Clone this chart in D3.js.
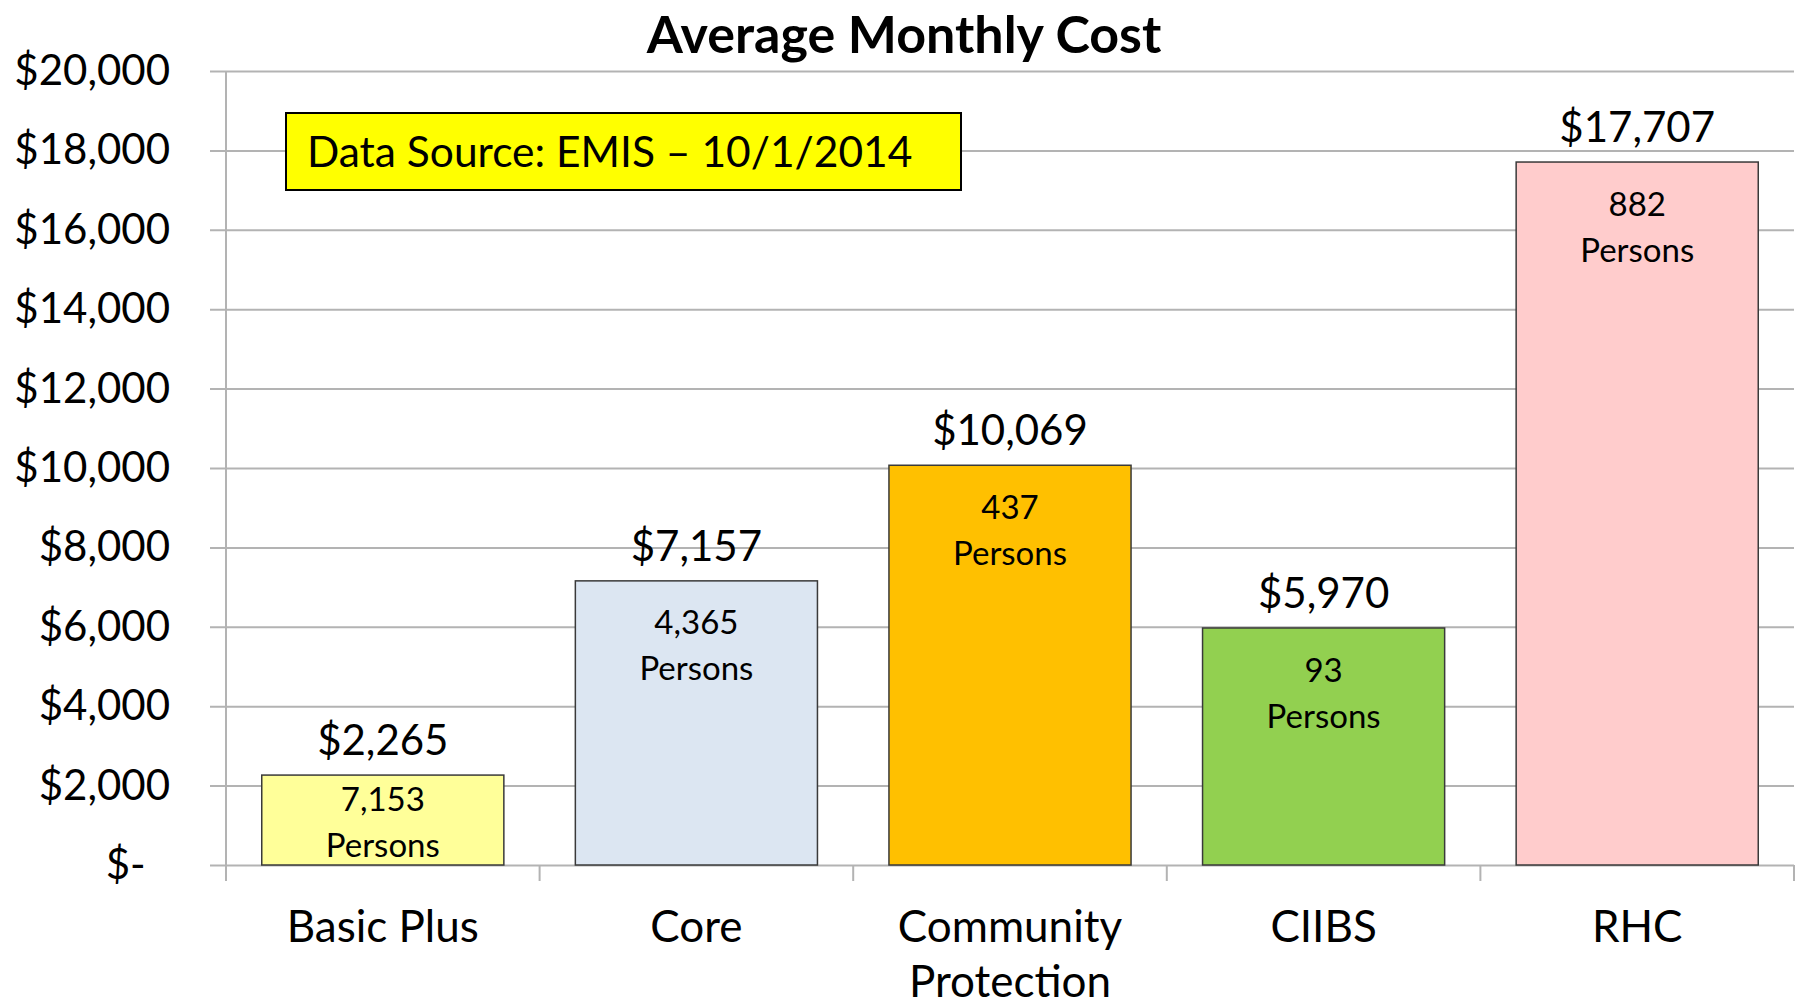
<!DOCTYPE html>
<html>
<head>
<meta charset="utf-8">
<script src="https://cdn.jsdelivr.net/npm/d3@7"></script>
<style>
  body { margin: 0; background: #fff; }
  text { font-family: Lato, "Open Sans", sans-serif; fill: #000; }
</style>
</head>
<body>
<svg width="1801" height="1007"></svg>
<script>
// chart values
var categories = ["Basic Plus", "Core", "Community Protection", "CIIBS", "RHC"];
var costs = [2265, 7157, 10069, 5970, 17707];
var persons = [7153, 4365, 437, 93, 882];
var barColors = ["#FFFF99", "#DCE6F2", "#FFC000", "#92D050", "#FFCCCC"];
var yTickValues = [0, 2000, 4000, 6000, 8000, 10000, 12000, 14000, 16000, 18000, 20000];
var sourceNote = "Data Source: EMIS \u2013 10/1/2014";

var svg = d3.select("svg"),
    plotLeft = 226, plotRight = 1794, plotTop = 71, plotBottom = 865;

var x = d3.scaleBand()
    .domain(categories)
    .range([plotLeft, plotRight])
    .paddingInner(0.228)
    .paddingOuter(0.114);

var y = d3.scaleLinear()
    .domain([0, 20000])
    .range([plotBottom, plotTop]);

var money = d3.format("$,");

// gridlines (they poke out 16px left of the axis like Excel ticks)
var grid = svg.append("g")
    .attr("transform", "translate(" + (plotLeft - 16) + ",0)")
    .call(d3.axisLeft(y).tickValues(yTickValues).tickSize(-(plotRight - plotLeft + 16)).tickFormat(""));
grid.select(".domain").remove();
grid.selectAll("line").attr("stroke", "#b3b3b3").attr("stroke-width", 2);

// y labels
var yAxis = svg.append("g")
    .attr("transform", "translate(" + plotLeft + ",0)")
    .call(d3.axisLeft(y).tickValues(yTickValues).tickSize(0).tickPadding(56)
      .tickFormat(d => d === 0 ? "$-\u2007" : money(d)));
yAxis.select(".domain").remove();
yAxis.selectAll("text").style("font-size", "42px").style("font-family", "Lato").attr("fill", "#000");

// vertical axis line
svg.append("line")
    .attr("x1", plotLeft).attr("x2", plotLeft)
    .attr("y1", plotTop).attr("y2", plotBottom)
    .attr("stroke", "#b3b3b3").attr("stroke-width", 2);

// category boundary ticks
svg.append("g").selectAll("line")
    .data(d3.range(categories.length + 1))
    .enter().append("line")
    .attr("x1", i => plotLeft + i * x.step())
    .attr("x2", i => plotLeft + i * x.step())
    .attr("y1", plotBottom).attr("y2", plotBottom + 16)
    .attr("stroke", "#b3b3b3").attr("stroke-width", 2);

// bars
svg.append("g").selectAll("rect")
    .data(categories)
    .enter().append("rect")
    .attr("x", d => x(d))
    .attr("width", x.bandwidth())
    .attr("y", (d, i) => y(costs[i]))
    .attr("height", (d, i) => y(0) - y(costs[i]))
    .attr("fill", (d, i) => barColors[i])
    .attr("stroke", "#3a3a3a")
    .attr("stroke-width", 1.5);

// value labels above bars
svg.append("g").selectAll("text")
    .data(categories)
    .enter().append("text")
    .attr("x", d => x(d) + x.bandwidth() / 2)
    .attr("y", (d, i) => y(costs[i]) - 20)
    .attr("text-anchor", "middle")
    .style("font-size", "42px")
    .text((d, i) => money(costs[i]));

// persons labels inside bars
var inner = svg.append("g").selectAll("text")
    .data(categories)
    .enter().append("text")
    .attr("text-anchor", "middle")
    .style("font-size", "33px")
    .attr("transform", (d, i) => {
      var first = Math.min(y(costs[i]) + 42, y(0) - 66);
      return "translate(" + (x(d) + x.bandwidth() / 2) + "," + first + ")";
    });
inner.append("tspan").attr("x", 0).attr("dy", "0.35em").text((d, i) => d3.format(",")(persons[i]));
inner.append("tspan").attr("x", 0).attr("dy", 46).text("Persons");

// category labels, wrapped to band width
svg.append("g").selectAll("text")
    .data(categories)
    .enter().append("text")
    .attr("text-anchor", "middle")
    .attr("x", d => x(d) + x.bandwidth() / 2)
    .attr("y", 942)
    .style("font-size", "44px")
    .each(function(d) {
      var el = d3.select(this), words = d.split(" "), line = [];
      var cx = x(d) + x.bandwidth() / 2;
      var ts = el.append("tspan").attr("x", cx);
      words.forEach(w => {
        line.push(w);
        ts.text(line.join(" "));
        if (ts.node().getComputedTextLength() > x.step() - 20 && line.length > 1) {
          line.pop();
          ts.text(line.join(" "));
          line = [w];
          ts = el.append("tspan").attr("x", cx).attr("dy", 55).text(w);
        }
      });
    });

// title
svg.append("text")
    .attr("x", 904).attr("y", 53)
    .attr("text-anchor", "middle")
    .style("font-size", "52px")
    .style("font-weight", "bold")
    .text("Average Monthly Cost");

// data source box
var note = svg.append("g").attr("transform", "translate(286,113)");
note.append("rect")
    .attr("width", 675).attr("height", 77)
    .attr("fill", "#FFFF00")
    .attr("stroke", "#000").attr("stroke-width", 2);
note.append("text")
    .attr("x", 21).attr("y", 39).attr("dy", "0.35em")
    .style("font-size", "42.5px")
    .text(sourceNote);
</script>
</body>
</html>
